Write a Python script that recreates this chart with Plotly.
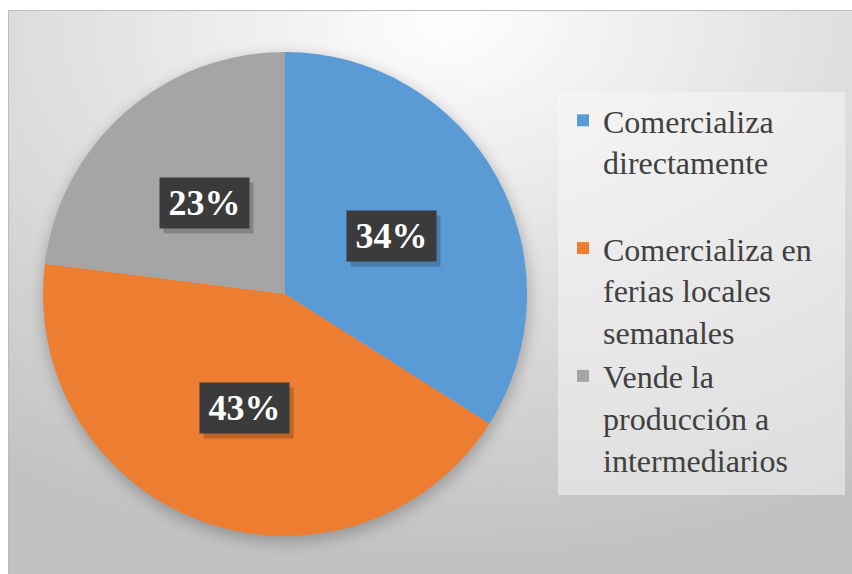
import base64
import math
import plotly.graph_objects as go

# ---- data ----
labels = [
    "Comercializa directamente",
    "Comercializa en ferias locales semanales",
    "Vende la producción a intermediarios",
]
legend_text = [
    "Comercializa<br>directamente<br> ",
    "Comercializa en<br>ferias locales<br>semanales",
    "Vende la<br>producción a<br>intermediarios",
]
values = [34, 43, 23]
colors = ["#5B9BD5", "#ED7D31", "#A5A5A5"]

SERIF = "Liberation Serif, Times New Roman, Times, serif"

# ---- geometry (pixels) ----
W, H = 852, 574
ML, MT = 8, 10
PW, PH = W - ML, H - MT
CX, CY, R = 285, 294, 242


def px_x(x):
    return (x - ML) / PW


def px_y(y):
    return (H - y) / PH


# soft radial background, chart border and a faint pie shadow
svg = f"""<svg xmlns='http://www.w3.org/2000/svg' width='{PW}' height='{PH}' viewBox='0 0 {PW} {PH}' preserveAspectRatio='none'>
<defs>
<radialGradient id='g' cx='0.52' cy='0.02' r='0.95' gradientUnits='objectBoundingBox'>
<stop offset='0' stop-color='#fefefe'/>
<stop offset='0.45' stop-color='#e2e2e2'/>
<stop offset='1' stop-color='#c2c2c2'/>
</radialGradient>
<filter id='b' x='-20%' y='-20%' width='140%' height='140%'><feGaussianBlur stdDeviation='7'/></filter>
</defs>
<rect x='0' y='0' width='{PW}' height='{PH}' fill='url(#g)'/>
<rect x='0.5' y='0.5' width='{PW}' height='{PH}' fill='none' stroke='#bdbdbd' stroke-width='1'/>
<circle cx='{CX - ML + 1}' cy='{CY - MT + 5}' r='{R + 2}' fill='rgba(0,0,0,0.22)' filter='url(#b)'/>
</svg>"""
bg_src = "data:image/svg+xml;base64," + base64.b64encode(svg.encode()).decode()

fig = go.Figure()
fig.add_trace(
    go.Pie(
        labels=legend_text,
        values=values,
        marker=dict(colors=colors, line=dict(width=0)),
        sort=False,
        direction="clockwise",
        rotation=0,
        textinfo="none",
        hoverinfo="percent",
        domain=dict(x=[px_x(CX - R), px_x(CX + R)], y=[px_y(CY + R), px_y(CY - R)]),
    )
)

# percentage labels in dark boxes at the middle of each slice
total = sum(values)
annotations = []
cum = 0
for v in values:
    mid = (cum + v / 2) / total
    cum += v
    th = 2 * math.pi * mid
    lx = CX + 0.5 * R * math.sin(th)
    ly = CY - 0.5 * R * math.cos(th)
    box = dict(x=px_x(lx), y=px_y(ly), xref="paper", yref="paper",
               xanchor="center", yanchor="middle", showarrow=False,
               width=79, height=40, borderpad=5)
    # drop shadow behind the label box
    annotations.append(dict(box, text=" ", xshift=4, yshift=-5,
                            bgcolor="rgba(0,0,0,0.2)"))
    annotations.append(dict(
        box, text=f"<b>{round(100 * v / total)}%</b>",
        font=dict(family=SERIF, size=36, color="white"),
        bgcolor="#3b3b3b",
    ))

fig.update_layout(
    width=W, height=H,
    margin=dict(l=ML, r=0, t=MT, b=0, pad=0),
    font=dict(family=SERIF, color="#404040"),
    paper_bgcolor="white",
    plot_bgcolor="rgba(0,0,0,0)",
    images=[dict(source=bg_src, xref="paper", yref="paper", x=0, y=1,
                 sizex=1, sizey=1, xanchor="left", yanchor="top",
                 sizing="stretch", layer="below")],
    shapes=[dict(type="rect", xref="paper", yref="paper",
                 x0=px_x(558), x1=px_x(845), y0=px_y(495), y1=px_y(92),
                 fillcolor="rgba(248,248,248,0.5)", line=dict(width=0),
                 layer="below")],
    annotations=annotations,
    showlegend=True,
    legend=dict(
        x=px_x(563), y=px_y(93), xanchor="left", yanchor="top",
        valign="top", bgcolor="rgba(0,0,0,0)",
        font=dict(family=SERIF, size=32, color="#404040"),
        itemclick=False, itemdoubleclick=False,
    ),
)

fig.write_html("out.html")
